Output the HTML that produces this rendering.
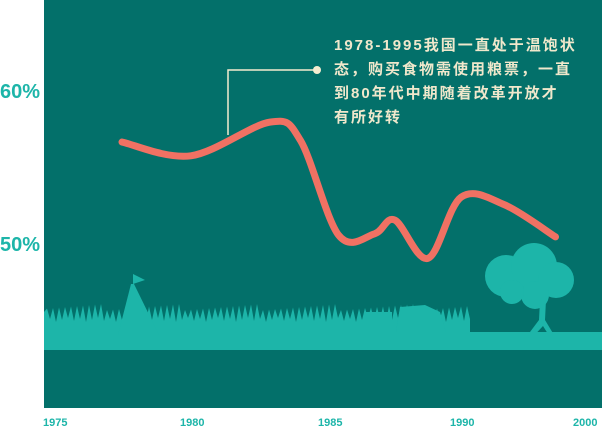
<!DOCTYPE html>
<html><head><meta charset="utf-8"><style>
body{margin:0;width:602px;height:428px;background:#fff;overflow:hidden;font-family:"Liberation Sans","Noto Sans CJK SC",sans-serif}
svg{display:block}
</style></head><body>
<svg id="c" width="602" height="428">
<rect x="44" y="0" width="558" height="408" fill="#03706a"/>
<g id="deco">
<rect x="44" y="332" width="558" height="18" fill="#1db5a9"/>
<path id="grass" fill="#1db5a9"/>
<path d="M131,284 L134,284 L159,335 L118,335 Z" fill="#1db5a9"/>
<path d="M133,284 L133,274 L145,280 Z" fill="#1db5a9"/>
<path d="M400,307 L425,305 L440,312 L446,332 L396,332 Z M365,312 L392,312 L392,332 L365,332Z" fill="#1db5a9"/>
<g fill="#1db5a9">
<circle cx="506" cy="276" r="21"/><circle cx="534" cy="266" r="23"/><circle cx="556" cy="280" r="18"/><circle cx="535" cy="295" r="14"/><circle cx="512" cy="292" r="12"/>
<path d="M540,300 L546,300 L545,320 L557,340 L553,342 L543,326 L528,342 L524,340 L539,320 Z"/>
</g>
</g>
<text x="0" y="98" font-size="20" font-weight="bold" fill="#1db5a9">60%</text>
<text x="0" y="251" font-size="20" font-weight="bold" fill="#1db5a9">50%</text>
<g id="xlabels" font-size="11" font-weight="bold" fill="#1db5a9"></g>
<path id="line" fill="none" stroke="#f07163" stroke-width="7" stroke-linecap="round"/>
<g>
<polyline points="228,135 228,70 316,70" fill="none" stroke="#f5ecd0" stroke-width="1.5"/>
<circle cx="317" cy="70" r="4" fill="#f5ecd0"/>
<g font-size="15" font-weight="bold" fill="#f0e8cc" letter-spacing="2">
<text x="334" y="50">1978-1995我国一直处于温饱状</text>
<text x="334" y="74">态，购买食物需使用粮票，一直</text>
<text x="334" y="98">到80年代中期随着改革开放才</text>
<text x="334" y="122">有所好转</text>
</g></g>
</svg>
<script>
const years=[1978,1980.7,1983.8,1985,1986.5,1987.9,1988.7,1990,1991.3,1993,1995];
const values=[56.6,55.7,57.9,56.7,50.5,50.6,51.5,49,53,52.5,50.4];
const tickLabels=["1975","1980","1985","1990","2000"];
const tickPos=[43,180,318,450,573];
const xs=y=>122+(y-1978)*25.5;
const ys=v=>243-(v-50)*15.3;
const pts=years.map((y,i)=>[xs(y),ys(values[i])]);
let d="M"+pts[0];
for(let i=0;i<pts.length-1;i++){
 const p0=pts[i-1]||pts[i],p1=pts[i],p2=pts[i+1],p3=pts[i+2]||p2;
 const c1=[p1[0]+(p2[0]-p0[0])/6,p1[1]+(p2[1]-p0[1])/6],c2=[p2[0]-(p3[0]-p1[0])/6,p2[1]-(p3[1]-p1[1])/6];
 d+=" C"+c1+" "+c2+" "+p2;
}
document.getElementById('line').setAttribute('d',d);
const g=document.getElementById('xlabels');
tickLabels.forEach((t,i)=>{const e=document.createElementNS('http://www.w3.org/2000/svg','text');
e.setAttribute('x',tickPos[i]);e.setAttribute('y',426);e.textContent=t;


g.appendChild(e);});
let gp="M44,332 L44,312";
for(let x=44;x<468;x+=6){const h=(x*37%13);gp+=` L${x+3},${310-h*0.5} L${x+6},${322-(x*17%5)}`;}
gp+=" L470,330 L470,332 Z";
document.getElementById('grass').setAttribute('d',gp);
</script>
</body></html>
